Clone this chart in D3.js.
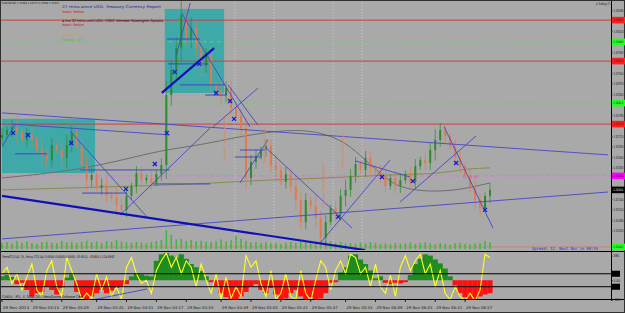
<!DOCTYPE html>
<html>
<head>
<meta charset="utf-8">
<script src="https://cdn.jsdelivr.net/npm/d3@7"></script>
<style>
body { margin: 0; background: #a9a9a9; }
svg { display: block; font-family: "DejaVu Sans", sans-serif; }
</style>
</head>
<body>
<div id="chart"></div>
<script>
// EURUSD M1 bars (close prices), first bar opens at firstOpen
const firstOpen = 1.32715;
const closes = [
  1.32723, 1.32737, 1.32746, 1.32731, 1.32709, 1.32723, 1.32709, 1.32680, 1.32663, 1.32651,
  1.32694, 1.32680, 1.32657, 1.32694, 1.32729, 1.32694, 1.32637, 1.32594, 1.32609, 1.32571,
  1.32580, 1.32551, 1.32543, 1.32523, 1.32509, 1.32549, 1.32577, 1.32614, 1.32594, 1.32600,
  1.32586, 1.32611, 1.32637, 1.32837, 1.32909, 1.32971, 1.33066, 1.33000, 1.33029, 1.32971,
  1.32920, 1.32951, 1.32866, 1.32851, 1.32837, 1.32857, 1.32800, 1.32777, 1.32743, 1.32600,
  1.32646, 1.32663, 1.32680, 1.32691, 1.32637, 1.32623, 1.32589, 1.32611, 1.32577, 1.32537,
  1.32474, 1.32537, 1.32520, 1.32486, 1.32429, 1.32474, 1.32514, 1.32497, 1.32549, 1.32566,
  1.32606, 1.32640, 1.32623, 1.32657, 1.32629, 1.32617, 1.32606, 1.32577, 1.32600, 1.32577,
  1.32594, 1.32611, 1.32589, 1.32634, 1.32651, 1.32643, 1.32680, 1.32709, 1.32737, 1.32720,
  1.32691, 1.32657, 1.32634, 1.32606, 1.32577, 1.32537, 1.32514, 1.32549, 1.32566
];
// wick length in pips for each bar
const wickPips = [
  2,1,2,3,1,2,2,1,3,2, 2,1,2,3,2,1,2,3,2,1, 2,2,1,3,2,2,1,2,2,1,
  2,1,2,4,3,3,4,2,3,2, 3,2,2,1,3,2,2,1,2,3, 2,2,1,2,2,3,1,2,2,3,
  2,2,1,3,2,2,1,2,2,3, 2,2,1,2,2,1,2,2,1,2, 2,1,2,2,1,2,2,3,2,2,
  1,2,2,1,2,3,2,1,2
];
const volumes = [
  30,35,28,40,32,38,30,26,34,36, 30,28,40,33,38,30,36,42,35,38,
  30,40,36,44,38,34,30,36,32,28, 35,40,45,95,70,48,52,40,45,38,
  42,36,34,40,48,38,44,65,50,40, 32,36,30,34,28,30,26,32,35,30,
  38,34,28,36,45,40,38,30,34,28, 30,26,32,28,34,30,26,28,24,30,
  26,28,32,26,30,34,28,24,30,26, 22,28,30,26,24,28,30,40,34
];
// TrendCCI histogram and Entry CCI line
const trendCci = [
  60,80,50,-60,-40,-150,-250,-200,-180,-100, -150,-220,-120,40,90,-180,-260,-300,-250,-200,
  -150,-200,-160,-120,-100,-60,60,100,90,70, 60,300,400,420,380,350,400,330,250,200,
  140,60,-30,-100,-200,-260,-310,-300,-250,-180, -100,-60,-150,-200,-120,-220,-300,-280,-200,-150,
  -250,-300,-260,-310,-280,-200,-40,-30,120,200, 380,400,320,250,150,30,60,-40,-60,-40,
  -50,-30,80,250,330,400,380,320,260,180, 60,-80,-200,-260,-300,-310,-250,-220,-200
];
const entryCci = [
  100,200,-50,100,-150,50,250,-150,-250,150, 300,-100,-250,350,150,-50,-300,-200,-280,100,
  -150,50,-250,-100,-300,200,350,100,-50,0, -200,150,300,420,200,350,100,300,200,-100,
  250,0,-200,100,-300,50,-280,-100,-250,380, 200,300,-50,-250,150,-300,-200,100,-250,-300,
  150,-200,-320,0,300,200,-150,150,300,100, 400,350,100,200,-100,250,-100,-200,80,-250,
  200,380,150,300,400,100,250,-100,150,-200, -300,-100,-250,-320,-200,-320,-150,400,350
];
const cciLevels = [100, -100];
const cciTicks = [380, 0, -300];

const priceTicks = [
  1.33080, 1.33050, 1.33020, 1.32990, 1.32960, 1.32930, 1.32900, 1.32870, 1.32840, 1.32810,
  1.32780, 1.32750, 1.32720, 1.32690, 1.32660, 1.32630, 1.32600, 1.32570, 1.32540, 1.32510,
  1.32480, 1.32450, 1.32420
];
const timeLabels = [
  "29 Nov 2013", "29 Nov 03:13", "29 Nov 03:29", "29 Nov 03:45", "29 Nov 04:01", "29 Nov 04:17",
  "29 Nov 04:33", "29 Nov 04:49", "29 Nov 05:05", "29 Nov 05:21", "29 Nov 05:37", "29 Nov 05:53",
  "29 Nov 06:09", "29 Nov 06:25", "29 Nov 06:41", "29 Nov 06:57"
];
const timeTickBars = [0, 6, 12, 19, 25, 31, 37, 44, 50, 56, 62, 69, 75, 81, 87, 93];
const separatorBars = [46.8, 54.6, 66.5, 72.3];

// horizontal price levels
const levelPrices = [1.33051, 1.32989, 1.32934, 1.32814, 1.32754, 1.32606, 1.32403];
const levelKinds = ["red", "green", "red", "green", "red", "magenta", "bottom"];

// objects drawn on the chart: [bar1, price1, bar2, price2]
const boxes = [[0, 1.32769, 18.7, 1.32614], [32.7, 1.33083, 44.6, 1.32843]];
const thickLines = [[0, 1.32549, 72.9, 1.32394], [32.1, 1.32843, 42.6, 1.32971]];
const thinLines = [
  [0, 1.32786, 121.7, 1.32666], [0, 1.32426, 121.7, 1.32560], [36.1, 1.33071, 49.8, 1.32746],
  [37.8, 1.33100, 35, 1.32951], [42.4, 1.32746, 51.4, 1.32857], [45.4, 1.32866, 51.4, 1.32751],
  [13.7, 1.32734, 29.1, 1.32489], [23.7, 1.32494, 41.8, 1.32743], [52.8, 1.32689, 70.3, 1.32457],
  [63.9, 1.32414, 77.9, 1.32651], [88.8, 1.32746, 98.6, 1.32457], [79.9, 1.32531, 95.2, 1.32720],
  [70.9, 1.32649, 81.9, 1.32603], [47.8, 1.32586, 53.4, 1.32709], [0, 1.32689, 2.6, 1.32751],
  [2, 1.32754, 33.7, 1.32723]
];
// [bar1, bar2, price]
const shortLevels = [
  [33.1, 39.8, 1.32997], [33.3, 41.4, 1.32926], [35.7, 44.8, 1.32866], [40.8, 45.2, 1.32837],
  [2.6, 9.0, 1.32669], [15.7, 33.7, 1.32623], [30.3, 41.8, 1.32583], [16.1, 25.1, 1.32557],
  [47.8, 52.8, 1.32680], [46.8, 52.2, 1.32660]
];
const cciLines = [[15.1, -351, 29.1, -135]];
const grayMa = [[0,1.32600],[12,1.32617],[22,1.32643],[32,1.32680],[40,1.32694],[48,1.32720],[58,1.32740],
  [64,1.32731],[69,1.32703],[73,1.32651],[77,1.32600],[80,1.32571],[86,1.32560],[92,1.32566],[98,1.32586]];
const oliveMa = [[0,1.32566],[20,1.32574],[40,1.32583],[52,1.32594],[66,1.32600],[80,1.32611],[87,1.32611],
  [93,1.32626],[98,1.32629]];
const markers = [[2.2,1.32729],[5.2,1.32723],[13.9,1.32700],[24.9,1.32569],[30.7,1.32640],[33.1,1.32729],
  [34.7,1.32903],[39.6,1.32926],[43,1.32843],[45.8,1.32820],[46.6,1.32769],[67.5,1.32489],[76.3,1.32603],
  [82.5,1.32591],[91.2,1.32643],[97,1.32509]];
const newsTags = [[45, 1.32709, "Treasury Currency Report"], [53, 1.32694, "Pending Home Sales"],
  [64.8, 1.32580, "Treasury Currency Report"], [68.6, 1.32680, "Member Rosengren"]];

const W = 625, H = 313, axisX = 611;
const svg = d3.select("#chart").append("svg").attr("width", W).attr("height", H);
svg.append("rect").attr("width", W).attr("height", H).attr("fill", "#a9a9a9");

const x = d3.scaleLinear().domain([0, 98]).range([2, 490]);
const y = d3.scaleLinear().domain([1.33100, 1.32400]).range([3, 248]);
const yc = d3.scaleLinear().domain([-320, 420]).range([301, 253]);
const yv = d3.scaleLinear().domain([0, 100]).range([249, 229]);
const fmt = d3.format(".5f");

const defs = svg.append("defs");
defs.append("clipPath").attr("id", "cm").append("rect").attr("width", axisX).attr("height", 250);
defs.append("clipPath").attr("id", "ci").append("rect").attr("y", 253).attr("width", axisX).attr("height", 46);

const main = svg.append("g").attr("clip-path", "url(#cm)");

main.selectAll(".box").data(boxes).enter().append("rect")
  .attr("x", d => x(d[0])).attr("y", d => y(d[1]))
  .attr("width", d => x(d[2]) - x(d[0])).attr("height", d => y(d[3]) - y(d[1]))
  .attr("fill", "#3fa9aa");

main.selectAll(".sep").data(separatorBars).enter().append("line")
  .attr("x1", d => x(d)).attr("x2", d => x(d)).attr("y1", 0).attr("y2", 250)
  .attr("stroke", "#d8d8d8").attr("stroke-width", 0.7).attr("stroke-dasharray", "1,2");

const levelStyle = {
  red: { c: "#c84040", dash: null, box: "#ff1c1c" },
  green: { c: "#5cd85c", dash: "4,3", box: "#20ff20" },
  magenta: { c: "#e070e0", dash: "4,3", box: "#ff00ff" },
  bottom: { c: "#c88080", dash: null, box: "#20ff20" }
};
main.selectAll(".lvl").data(levelPrices).enter().append("line")
  .attr("x1", 0).attr("x2", axisX).attr("y1", d => y(d)).attr("y2", d => y(d))
  .attr("stroke", (d, i) => levelStyle[levelKinds[i]].c)
  .attr("stroke-dasharray", (d, i) => levelStyle[levelKinds[i]].dash)
  .attr("stroke-width", 1);

// volumes
main.selectAll(".vol").data(volumes).enter().append("rect")
  .attr("x", (d, i) => x(i) - 0.8).attr("width", 1.6)
  .attr("y", d => yv(d)).attr("height", d => yv(0) - yv(d))
  .attr("fill", "#40b840");

const maLine = d3.line().x(d => x(d[0])).y(d => y(d[1])).curve(d3.curveBasis);
main.append("path").attr("d", maLine(grayMa)).attr("fill", "none").attr("stroke", "#6e6e6e").attr("stroke-width", 1);
main.append("path").attr("d", maLine(oliveMa)).attr("fill", "none").attr("stroke", "#8a8a50").attr("stroke-width", 1);

// candles
const bars = closes.map((c, i) => ({ i, o: i === 0 ? firstOpen : closes[i - 1], c, w: wickPips[i] * 0.0001 }));
const cg = main.selectAll(".bar").data(bars).enter().append("g");
const col = d => d.c >= d.o ? "#2f8a2f" : "#e4784e";
cg.append("line")
  .attr("x1", d => x(d.i)).attr("x2", d => x(d.i))
  .attr("y1", d => y(Math.max(d.o, d.c) + d.w)).attr("y2", d => y(Math.min(d.o, d.c) - d.w))
  .attr("stroke", col).attr("stroke-width", 0.7);
cg.append("rect")
  .attr("x", d => x(d.i) - 1).attr("width", 2)
  .attr("y", d => y(Math.max(d.o, d.c))).attr("height", d => Math.max(1, Math.abs(y(d.o) - y(d.c))))
  .attr("fill", col);

main.selectAll(".sl").data(shortLevels).enter().append("line")
  .attr("x1", d => x(d[0])).attr("x2", d => x(d[1])).attr("y1", d => y(d[2])).attr("y2", d => y(d[2]))
  .attr("stroke", "#3c3cc8").attr("stroke-width", 0.9);
main.selectAll(".tl").data(thinLines).enter().append("line")
  .attr("x1", d => x(d[0])).attr("y1", d => y(d[1])).attr("x2", d => x(d[2])).attr("y2", d => y(d[3]))
  .attr("stroke", "#4646c8").attr("stroke-width", 0.9);
main.selectAll(".tk").data(thickLines).enter().append("line")
  .attr("x1", d => x(d[0])).attr("y1", d => y(d[1])).attr("x2", d => x(d[2])).attr("y2", d => y(d[3]))
  .attr("stroke", "#1010b8").attr("stroke-width", 2.2);

const mk = main.selectAll(".mk").data(markers).enter().append("g")
  .attr("transform", d => `translate(${x(d[0])},${y(d[1])})`);
mk.append("path").attr("d", "M-2,-2L2,2M-2,2L2,-2").attr("stroke", "#1a1ad0").attr("stroke-width", 1.3);

main.selectAll(".news").data(newsTags).enter().append("text")
  .attr("transform", d => `translate(${x(d[0])},${y(d[1])}) rotate(-90)`)
  .attr("text-anchor", "middle").attr("font-size", 3.5).attr("fill", "#e8804a").text(d => d[2]);

main.append("text").attr("x", x(92.5)).attr("y", y(1.32606) + 2.5).attr("font-size", 3.5)
  .attr("fill", "#e040e0").text("1.327.20");

// header texts
const hdr = [
  [2, 4, "EURUSD,M1 1.32584 1.32573 1.32566 1.32573", "#101010", 57, 2.6],
  [62, 8.2, "27 mins since USD: Treasury Currency Report", "#2020a0", 99, 3.6],
  [62, 12.5, "Impact: Medium", "#d01010", 22, 3.6],
  [62, 17, "Previous: 10.9", "#d8a040", 21, 3.6],
  [62, 21.5, "4 hrs 32 mins until USD: FOMC Member Rosengren Speaks", "#101010", 101, 3.6],
  [62, 25.5, "Impact: Medium", "#d01010", 22, 3.6],
  [62, 36, "Previous: 10.3", "#d8a040", 21, 3.6],
  [62, 40.5, "Forecast: 10.3", "#40c040", 21, 3.6]
];
svg.selectAll(".hdr").data(hdr).enter().append("text")
  .attr("x", d => d[0]).attr("y", d => d[1]).attr("fill", d => d[3]).attr("font-size", d => d[5])
  .attr("textLength", d => d[4]).attr("lengthAdjust", "spacingAndGlyphs").text(d => d[2]);
svg.append("text").attr("x", 596).attr("y", 5).attr("font-size", 3.8).attr("fill", "#202020")
  .attr("textLength", 14).attr("lengthAdjust", "spacingAndGlyphs").text("a Trading ☺");
svg.append("text").attr("x", 532).attr("y", 249.5).attr("font-size", 4.2)
  .attr("font-family", "DejaVu Sans Mono").attr("fill", "#2a2ad0")
  .attr("textLength", 66).attr("lengthAdjust", "spacingAndGlyphs").text("Spread: 12. Next Bar in 00:55");

// indicator
const ind = svg.append("g").attr("clip-path", "url(#ci)");
ind.selectAll(".h").data(trendCci).enter().append("rect")
  .attr("x", (d, i) => x(i) - 2.6).attr("width", 5.2)
  .attr("y", d => Math.min(yc(0), yc(d))).attr("height", d => Math.abs(yc(d) - yc(0)))
  .attr("fill", d => d >= 0 ? "#1e8c1e" : "#ff1010");
ind.append("path").datum(entryCci)
  .attr("d", d3.line().x((d, i) => x(i)).y(d => yc(d)))
  .attr("fill", "none").attr("stroke", "#ffff20").attr("stroke-width", 1.1);
ind.selectAll(".cl").data(cciLevels).enter().append("line")
  .attr("x1", 0).attr("x2", axisX).attr("y1", d => yc(d)).attr("y2", d => yc(d))
  .attr("stroke", "#000").attr("stroke-width", 1);
ind.selectAll(".cil").data(cciLines).enter().append("line")
  .attr("x1", d => x(d[0])).attr("y1", d => yc(d[1])).attr("x2", d => x(d[2])).attr("y2", d => yc(d[3]))
  .attr("stroke", "#4646c8").attr("stroke-width", 0.9);
svg.append("text").attr("x", 2).attr("y", 257.5).attr("font-size", 3.6).attr("fill", "#101010")
  .attr("textLength", 113).attr("lengthAdjust", "spacingAndGlyphs")
  .text("TrendCCI(14) 75, Entry CCI(14) 0.0000 0.0000 0.0000 -53.6511 -53.6511 124.8567");
svg.append("text").attr("x", 2).attr("y", 298).attr("font-size", 3.6).attr("fill", "#101010")
  .attr("textLength", 82).attr("lengthAdjust", "spacingAndGlyphs")
  .text("CANDA - RTL, © 2004-2013 MetaQuotes Software Corp.");

// frames
svg.append("line").attr("x1", 0).attr("x2", W).attr("y1", 251.5).attr("y2", 251.5).attr("stroke", "#000");
svg.append("line").attr("x1", 0).attr("x2", W).attr("y1", 299.5).attr("y2", 299.5).attr("stroke", "#000");
svg.append("line").attr("x1", axisX + 0.5).attr("x2", axisX + 0.5).attr("y1", 0).attr("y2", 300).attr("stroke", "#000");
svg.append("rect").attr("x", 0.5).attr("y", 0.5).attr("width", W - 1).attr("height", H - 1)
  .attr("fill", "none").attr("stroke", "#303030");

// price axis: hide ticks that sit under a coloured level box
const boxPrices = levelPrices.concat([closes[closes.length - 1]]);
const freeTicks = priceTicks.filter(p => boxPrices.every(b => Math.abs(y(b) - y(p)) > 6));
const pa = svg.append("g").attr("transform", `translate(${axisX},0)`)
  .call(d3.axisRight(y).tickValues(freeTicks).tickFormat(fmt).tickSize(1.5));
pa.select(".domain").remove();
pa.selectAll("text").attr("font-size", 3.2).attr("x", 2.5).attr("fill", "#202020")
  .attr("textLength", 10).attr("lengthAdjust", "spacingAndGlyphs");
pa.selectAll("line").attr("stroke", "#202020");

const lb = svg.selectAll(".lb").data(boxPrices).enter().append("g")
  .attr("transform", d => `translate(${axisX + 1},${y(d)})`);
lb.append("rect").attr("y", -3.3).attr("width", 13).attr("height", 6.6)
  .attr("fill", (d, i) => i < levelKinds.length ? levelStyle[levelKinds[i]].box : "#000");
lb.append("text").attr("x", 1.2).attr("y", 1.3).attr("font-size", 3.2)
  .attr("textLength", 10).attr("lengthAdjust", "spacingAndGlyphs")
  .attr("fill", (d, i) => i < levelKinds.length ? "#202020" : "#fff").text(fmt);

// indicator axis
const ia = svg.append("g").attr("transform", `translate(${axisX},0)`)
  .call(d3.axisRight(yc).tickValues(cciTicks).tickFormat(d => d === 0 ? "0.00" : d).tickSize(1.5));
ia.select(".domain").remove();
ia.selectAll("text").attr("font-size", 3.4).attr("x", 2.5).attr("fill", "#202020");
svg.selectAll(".cb").data(cciLevels).enter().append("rect")
  .attr("x", axisX + 1).attr("y", d => yc(d) - 3).attr("width", 8).attr("height", 6).attr("fill", "#000");

// time axis
svg.selectAll(".tt").data(timeTickBars).enter().append("text")
  .attr("x", d => x(d) + 1).attr("y", 309).attr("font-size", 3.8).attr("fill", "#202020")
  .attr("textLength", 26).attr("lengthAdjust", "spacingAndGlyphs")
  .text((d, i) => timeLabels[i]);
svg.selectAll(".tm").data(timeTickBars).enter().append("line")
  .attr("x1", d => x(d)).attr("x2", d => x(d)).attr("y1", 300).attr("y2", 302).attr("stroke", "#202020");
</script>
</body>
</html>
